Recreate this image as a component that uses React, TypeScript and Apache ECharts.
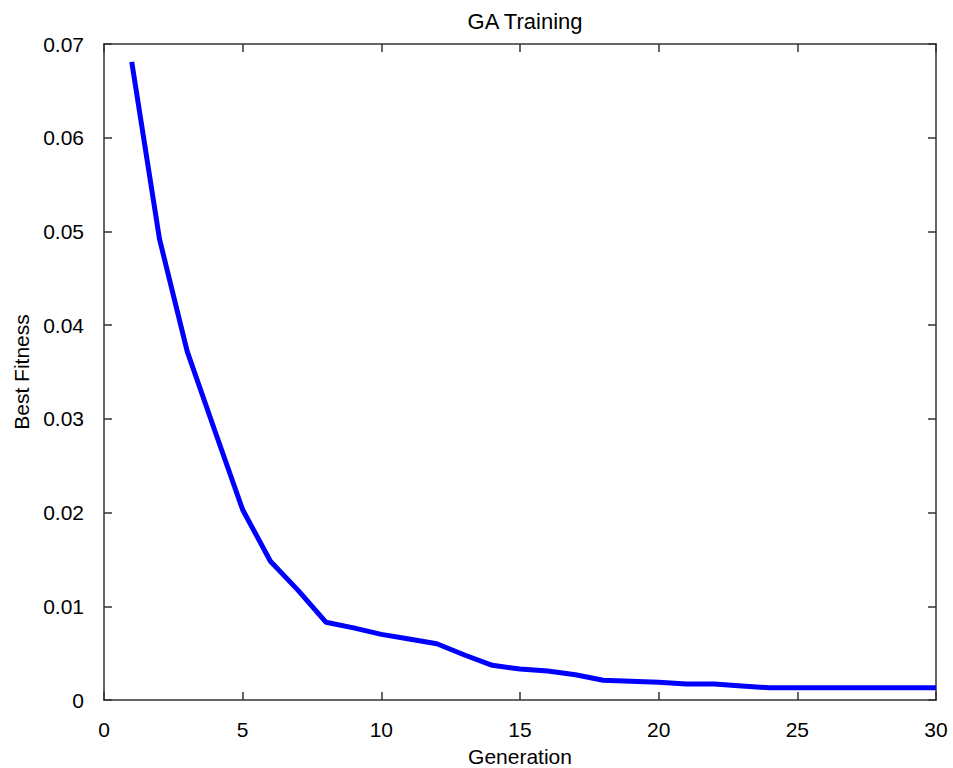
import React, { useEffect, useRef } from "react";
import * as echarts from "echarts";

const generations = [1,2,3,4,5,6,7,8,9,10,11,12,13,14,15,16,17,18,19,20,21,22,23,24,25,26,27,28,29,30];
const bestFitness = [0.0681,0.0492,0.0372,0.0287,0.0203,0.0148,0.0117,0.0083,0.0077,0.0070,0.0065,0.0060,0.0048,0.0037,0.0033,0.0031,0.0027,0.0021,0.0020,0.0019,0.0017,0.0017,0.0015,0.0013,0.0013,0.0013,0.0013,0.0013,0.0013,0.0013];
const xTicks = [0, 5, 10, 15, 20, 25, 30];
const yTicks = [0, 0.01, 0.02, 0.03, 0.04, 0.05, 0.06, 0.07];

const FONT = "'Liberation Sans', Arial, sans-serif";
const AX = "#333333";

export default function App() {
  const ref = useRef<HTMLDivElement>(null);
  useEffect(() => {
    if (!ref.current) return;
    const chart = echarts.init(ref.current, null, { renderer: "svg" });
    const axisLine = { show: true, onZero: false, lineStyle: { color: AX, width: 1.5 } };
    const axisTick = { show: true, inside: true, length: 8, lineStyle: { color: AX, width: 1.5 } };
    chart.setOption({
      animation: false,
      backgroundColor: "#ffffff",
      textStyle: { fontFamily: FONT },
      title: {
        text: "GA Training",
        left: 520,
        textAlign: "center",
        top: 5,
        textStyle: { fontFamily: FONT, fontSize: 22, fontWeight: "normal", color: "#000" },
      },
      grid: { left: 104, right: 17, top: 44, bottom: 68, containLabel: false, outerBoundsMode: "none" },
      xAxis: [
        {
          type: "value",
          min: 0,
          max: 30,
          interval: 5,
          name: "Generation",
          nameLocation: "middle",
          nameGap: 46,
          nameTextStyle: { fontFamily: FONT, fontSize: 21, color: "#000" },
          axisLine,
          axisTick,
          splitLine: { show: false },
          axisLabel: {
            margin: 19,
            fontFamily: FONT,
            fontSize: 21,
            color: "#000",
            formatter: (v: number) => (xTicks.includes(v) ? String(v) : ""),
          },
        },
        {
          type: "value",
          position: "top",
          min: 0,
          max: 30,
          interval: 5,
          axisLine,
          axisTick,
          splitLine: { show: false },
          axisLabel: { show: false },
        },
      ],
      yAxis: [
        {
          type: "value",
          min: 0,
          max: 0.07,
          interval: 0.01,
          name: "Best Fitness",
          nameLocation: "middle",
          nameGap: 69,
          nameTextStyle: { fontFamily: FONT, fontSize: 21, color: "#000" },
          axisLine,
          axisTick,
          splitLine: { show: false },
          axisLabel: {
            margin: 20,
            fontFamily: FONT,
            fontSize: 21,
            color: "#000",
            formatter: (v: number) => {
              const t = yTicks.find((y) => Math.abs(y - v) < 1e-9);
              return t === undefined ? "" : t === 0 ? "0" : t.toFixed(2);
            },
          },
        },
        {
          type: "value",
          position: "right",
          min: 0,
          max: 0.07,
          interval: 0.01,
          axisLine,
          axisTick,
          splitLine: { show: false },
          axisLabel: { show: false },
        },
      ],
      series: [
        {
          type: "line",
          data: generations.map((g, i) => [g, bestFitness[i]]),
          showSymbol: false,
          symbol: "none",
          lineStyle: { color: "#0000ff", width: 5 },
          itemStyle: { color: "#0000ff" },
        },
      ],
    });
    return () => chart.dispose();
  }, []);
  return (
    <div
      ref={ref}
      style={{ position: "fixed", left: 0, top: 0, width: 953, height: 768, background: "#fff" }}
    />
  );
}
